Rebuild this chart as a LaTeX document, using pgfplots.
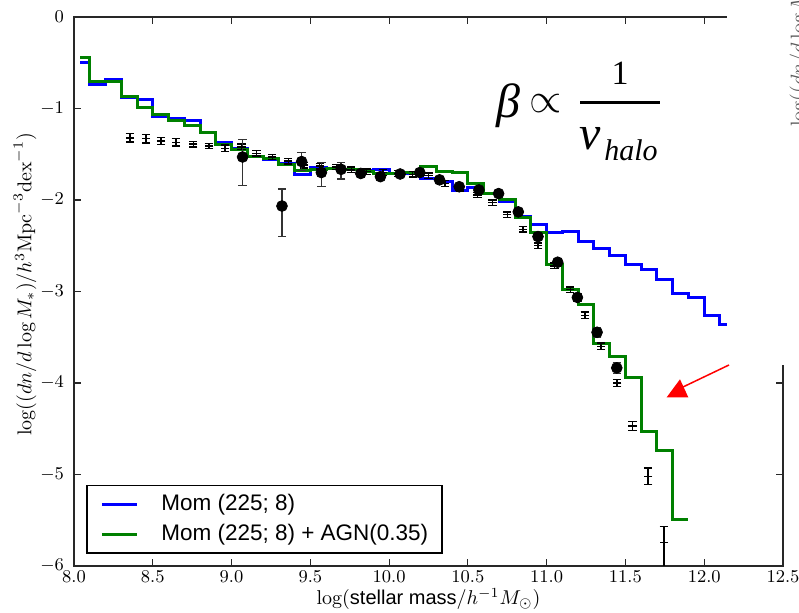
\documentclass[border=0pt]{standalone}
\usepackage{fontspec}
\usepackage{pgfplots}
\usepackage{pgfplotstable}
\pgfplotsset{compat=1.18}
\newfontfamily\hv{Liberation Sans}
\newfontfamily\tms{Liberation Serif}

\definecolor{momblue}{RGB}{0,0,255}
\definecolor{agngreen}{RGB}{0,128,0}
\definecolor{framegray}{RGB}{40,40,40}

% model: momentum-driven winds
\pgfplotstableread{
x y
8.04 -0.50
8.10 -0.74
8.20 -0.68
8.30 -0.88
8.40 -0.90
8.50 -1.09
8.60 -1.11
8.70 -1.13
8.80 -1.26
8.90 -1.37
9.00 -1.44
9.10 -1.53
9.20 -1.56
9.30 -1.60
9.40 -1.72
9.50 -1.645
9.60 -1.655
9.70 -1.67
9.80 -1.68
9.90 -1.665
10.00 -1.715
10.10 -1.715
10.20 -1.76
10.30 -1.80
10.40 -1.90
10.50 -1.86
10.60 -1.93
10.70 -2.02
10.80 -2.175
10.90 -2.27
11.00 -2.36
11.10 -2.34
11.20 -2.45
11.30 -2.53
11.40 -2.61
11.50 -2.70
11.60 -2.755
11.70 -2.865
11.80 -3.02
11.90 -3.065
12.00 -3.26
12.10 -3.365
12.20 -3.365
}\momtable

% model: momentum-driven winds plus AGN feedback
\pgfplotstableread{
x y
8.04 -0.445
8.10 -0.71
8.20 -0.70
8.30 -0.87
8.40 -0.99
8.50 -1.07
8.60 -1.13
8.70 -1.19
8.80 -1.26
8.90 -1.39
9.00 -1.45
9.10 -1.53
9.20 -1.55
9.30 -1.61
9.40 -1.68
9.50 -1.67
9.60 -1.66
9.70 -1.67
9.80 -1.69
9.90 -1.715
10.00 -1.715
10.10 -1.70
10.20 -1.632
10.30 -1.69
10.40 -1.695
10.50 -1.82
10.60 -1.93
10.70 -2.00
10.80 -2.19
10.90 -2.35
11.00 -2.70
11.10 -2.98
11.20 -3.145
11.30 -3.57
11.40 -3.71
11.50 -3.94
11.60 -4.53
11.70 -4.74
11.80 -5.49
11.90 -5.49
}\agntable

% observed mass function (filled circles)
\pgfplotstableread{
x y ep em
9.07 -1.53 0.19 0.31
9.32 -2.066 0.186 0.334
9.445 -1.58 0.10 0.10
9.57 -1.70 0.11 0.155
9.695 -1.665 0.075 0.105
9.82 -1.71 0.04 0.04
9.945 -1.745 0.03 0.03
10.07 -1.716 0.02 0.02
10.195 -1.70 0.03 0.03
10.32 -1.78 0.02 0.02
10.445 -1.855 0.02 0.02
10.57 -1.89 0.02 0.02
10.695 -1.93 0.02 0.02
10.82 -2.13 0.02 0.02
10.945 -2.40 0.03 0.03
11.07 -2.68 0.03 0.03
11.195 -3.065 0.04 0.04
11.32 -3.446 0.05 0.05
11.445 -3.835 0.06 0.06
}\obsdots

% observed mass function (second sample)
\pgfplotstableread{
x y ep em
8.355 -1.32 0.045 0.045
8.457 -1.33 0.045 0.045
8.552 -1.355 0.04 0.04
8.647 -1.37 0.04 0.04
8.757 -1.39 0.03 0.03
8.856 -1.41 0.03 0.03
8.958 -1.435 0.035 0.035
9.064 -1.42 0.03 0.03
9.159 -1.49 0.03 0.03
9.258 -1.53 0.03 0.03
9.36 -1.575 0.03 0.03
9.46 -1.62 0.03 0.03
9.56 -1.63 0.03 0.03
9.667 -1.64 0.03 0.03
9.76 -1.67 0.03 0.03
9.857 -1.69 0.03 0.03
9.96 -1.70 0.03 0.03
10.06 -1.71 0.03 0.03
10.15 -1.72 0.03 0.03
10.25 -1.735 0.03 0.03
10.355 -1.82 0.03 0.03
10.45 -1.87 0.03 0.03
10.56 -1.945 0.03 0.03
10.657 -2.03 0.03 0.03
10.75 -2.16 0.03 0.03
10.85 -2.32 0.03 0.03
10.946 -2.50 0.03 0.03
11.05 -2.72 0.03 0.03
11.15 -2.98 0.03 0.03
11.243 -3.26 0.035 0.035
11.345 -3.60 0.035 0.035
11.447 -4.00 0.04 0.04
11.545 -4.47 0.05 0.05
11.644 -5.02 0.09 0.09
11.744 -5.745 0.175 0.26
}\obscross

\begin{document}
\begin{tikzpicture}
\begin{axis}[
  at={(0pt,0pt)}, anchor=south west,
  scale only axis, width=354.5pt, height=274.5pt,
  xmin=8, xmax=12.5, ymin=-6, ymax=0,
  xtick={8,8.5,9,9.5,10,10.5,11,11.5,12,12.5},
  ytick={-6,-5,-4,-3,-2,-1,0},
  xtick pos=both, ytick pos=both,
  xticklabel pos=lower, yticklabel pos=left,
  tick align=inside, major tick length=3.5pt,
  minor tick num=0,
  axis line style={framegray, line width=0.8pt},
  tick style={framegray, line width=0.6pt},
  ticklabel style={font=\fontsize{9}{10}\selectfont},
  xticklabel style={/pgf/number format/fixed, /pgf/number format/fixed zerofill, /pgf/number format/precision=1, yshift=1pt},
  yticklabel style={xshift=-1.5pt},
  label style={font=\fontsize{10}{12}\selectfont},
  xlabel={$\log($\hv stellar mass$/h^{-1}M_{\odot})$},
  ylabel={$\log((dn/d\log M_*)/h^3\mathrm{Mpc}^{-3}\mathrm{dex}^{-1})$},
  xlabel style={at={(axis description cs:0.5,-0.071)}, anchor=base},
  ylabel style={at={(axis description cs:-0.060,0.513)}, anchor=base},
  legend cell align=left,
  legend style={at={(axis description cs:0.0169,0.0219)}, anchor=south west,
    draw=black, line width=0.8pt, fill=white,
    font=\hv\fontsize{11.25}{13}\selectfont,
    inner xsep=6.75pt, inner ysep=4.6pt, row sep=5.4pt,
    nodes={inner sep=0pt},
    /tikz/every odd column/.append style={column sep=11.5pt}},
  legend image code/.code={\draw[#1, line width=1.5pt] (0pt,0pt) -- (17.5pt,0pt);},
]
\addplot[const plot, momblue, line width=1.5pt] table[x=x, y=y] {\momtable};
\addlegendentry{Mom (225; 8)}
\addplot[const plot, agngreen, line width=1.5pt] table[x=x, y=y] {\agntable};
\addlegendentry{Mom (225; 8) + AGN(0.35)}

\addplot[forget plot, only marks, mark=-, mark size=2.1pt, black,
  mark options={line width=0.75pt},
  error bars/.cd, y dir=both, y explicit,
  error bar style={line width=0.7pt, black},
  error mark options={rotate=90, mark size=2.1pt, line width=0.7pt}]
  table[x=x, y=y, y error plus=ep, y error minus=em] {\obscross};

\addplot[forget plot, only marks, mark=*, mark size=2.7pt, black,
  error bars/.cd, y dir=both, y explicit,
  error bar style={line width=0.65pt, black!80},
  error mark options={rotate=90, mark size=2.1pt, line width=0.65pt, black!80}]
  table[x=x, y=y, y error plus=ep, y error minus=em] {\obsdots};
\end{axis}

% overlay in pixel-like units, origin at the top-left corner of the figure
\begin{scope}[shift={(-37pt,283pt)}, x=0.5pt, y=-0.5pt]
  \fill[white] (727,-10) rectangle (820,365);
  % neighbouring panel's axis title, cut by the page edge
  \node[rotate=90, anchor=base west, inner sep=0pt, text=black!65,
    font=\fontsize{10}{12}\selectfont] at (804.5,127)
    {$\log((dn/d\log M_*)/h^3\mathrm{Mpc}^{-3}\mathrm{dex}^{-1})$};
  % scaling of the wind loading
  \node[anchor=base west, inner sep=0pt, font=\tms\itshape\fontsize{24}{28}\selectfont] at (496,117.5) {β};
  \node[anchor=center, inner sep=0pt, font=\fontsize{22}{25}\selectfont] at (546,103.5) {$\propto$};
  \node[anchor=base, inner sep=0pt, font=\tms\fontsize{17}{20}\selectfont] at (620,85) {1};
  \draw[line width=1.3pt] (580,102.7) -- (660,102.7);
  \node[anchor=base west, inner sep=0pt, font=\tms\itshape\fontsize{24}{28}\selectfont] at (579,150) {v};
  \node[anchor=base west, inner sep=0pt, font=\tms\itshape\fontsize{15}{18}\selectfont] at (604,161) {halo};
  % arrow
  \draw[red, line width=0.75pt] (729,365) -- (683,387);
  \fill[red] (666.7,397.3) -- (688.3,397.3) -- (680,379.3) -- cycle;
\end{scope}

\pgfresetboundingbox
\path[use as bounding box] (-37pt,-23.5pt) rectangle (362.5pt,283pt);
\end{tikzpicture}
\end{document}
